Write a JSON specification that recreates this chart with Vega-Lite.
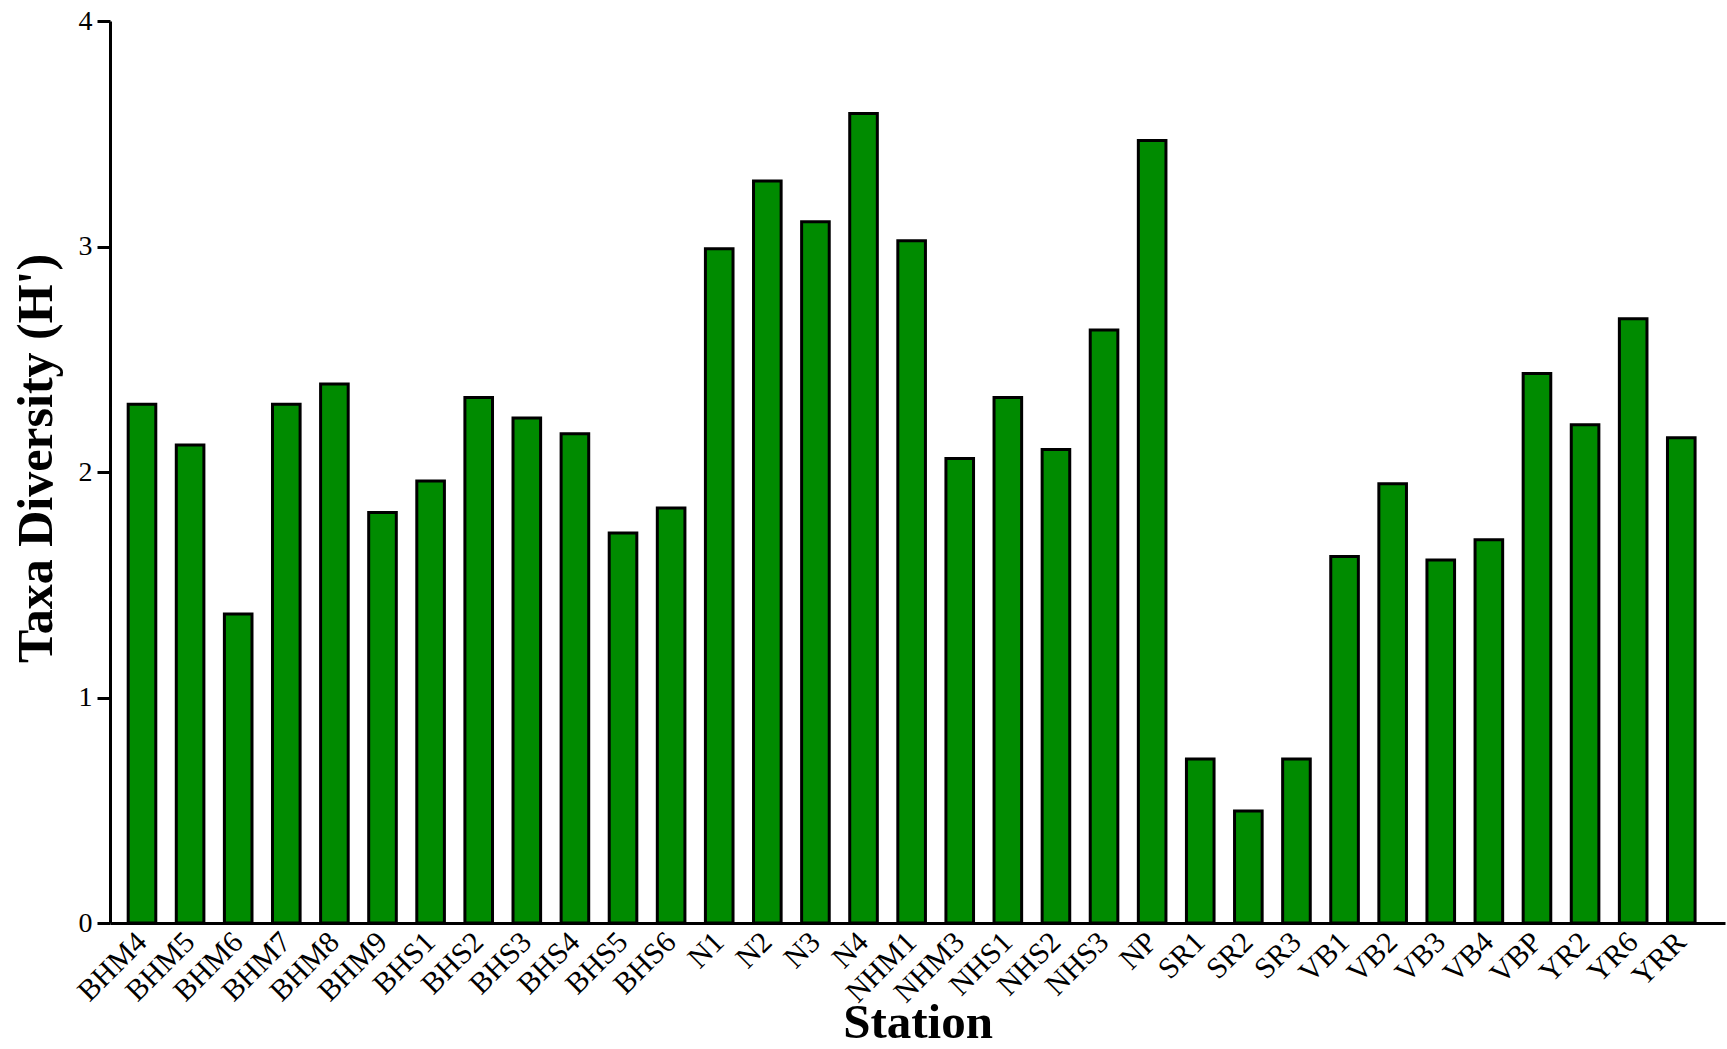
{
  "$schema": "https://vega.github.io/schema/vega-lite/v6.json",
  "width": 1615,
  "height": 902,
  "padding": {"left": 110, "top": 21, "right": 2, "bottom": 126},
  "autosize": {"type": "none"},
  "background": "white",
  "config": {"view": {"stroke": null}, "font": "Liberation Serif"},
  "data": {
    "values": [
      {"station": "BHM4", "H": 2.30},
      {"station": "BHM5", "H": 2.12},
      {"station": "BHM6", "H": 1.37},
      {"station": "BHM7", "H": 2.30},
      {"station": "BHM8", "H": 2.39},
      {"station": "BHM9", "H": 1.82},
      {"station": "BHS1", "H": 1.96},
      {"station": "BHS2", "H": 2.33},
      {"station": "BHS3", "H": 2.24},
      {"station": "BHS4", "H": 2.17},
      {"station": "BHS5", "H": 1.73},
      {"station": "BHS6", "H": 1.84},
      {"station": "N1", "H": 2.99},
      {"station": "N2", "H": 3.29},
      {"station": "N3", "H": 3.11},
      {"station": "N4", "H": 3.59},
      {"station": "NHM1", "H": 3.025},
      {"station": "NHM3", "H": 2.06},
      {"station": "NHS1", "H": 2.33},
      {"station": "NHS2", "H": 2.10},
      {"station": "NHS3", "H": 2.63},
      {"station": "NP", "H": 3.47},
      {"station": "SR1", "H": 0.727},
      {"station": "SR2", "H": 0.497},
      {"station": "SR3", "H": 0.727},
      {"station": "VB1", "H": 1.625},
      {"station": "VB2", "H": 1.948},
      {"station": "VB3", "H": 1.61},
      {"station": "VB4", "H": 1.70},
      {"station": "VBP", "H": 2.437},
      {"station": "YR2", "H": 2.21},
      {"station": "YR6", "H": 2.68},
      {"station": "YRR", "H": 2.152}
    ]
  },
  "mark": {"type": "bar", "fill": "#008b00", "stroke": "black", "strokeWidth": 3},
  "encoding": {
    "x": {
      "field": "station",
      "type": "nominal",
      "sort": null,
      "scale": {"paddingInner": 0.426, "paddingOuter": 0.5, "align": 0.378},
      "axis": {
        "title": "Station",
        "labelAngle": -45,
        "labelAlign": "right",
        "labelBaseline": "middle",
        "labelFont": "Liberation Serif",
        "labelFontSize": 30,
        "labelColor": "black",
        "labelPadding": 14,
        "ticks": false,
        "domainColor": "black",
        "domainWidth": 3,
        "titleFont": "Liberation Serif",
        "titleFontSize": 49,
        "titleFontWeight": "bold",
        "titleColor": "black",
        "titleBaseline": "alphabetic",
        "titleY": 114
      }
    },
    "y": {
      "field": "H",
      "type": "quantitative",
      "scale": {"domain": [0, 4], "nice": false},
      "axis": {
        "title": "Taxa Diversity (H')",
        "values": [0, 1, 2, 3, 4],
        "grid": false,
        "labelFont": "Liberation Serif",
        "labelFontSize": 28,
        "labelColor": "black",
        "labelPadding": 5,
        "tickSize": 13,
        "tickWidth": 3,
        "tickColor": "black",
        "domainColor": "black",
        "domainWidth": 3,
        "titleFont": "Liberation Serif",
        "titleFontSize": 50,
        "titleFontWeight": "bold",
        "titleColor": "black",
        "titleBaseline": "middle",
        "titleX": -74,
        "titleY": 437
      }
    }
  }
}
